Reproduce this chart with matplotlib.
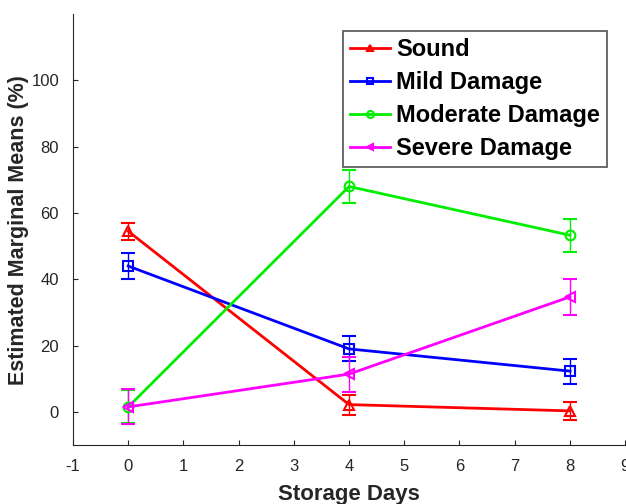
import numpy as np
import matplotlib.pyplot as plt
from matplotlib.lines import Line2D

days = [0, 4, 8]
sound = [54.5, 2.2, 0.3]
sound_err = [2.5, 3.0, 2.8]
mild = [44.0, 19.0, 12.3]
mild_err = [3.8, 3.8, 3.8]
moderate = [1.5, 68.0, 53.3]
moderate_err = [5.0, 5.0, 5.0]
severe = [1.5, 11.4, 34.7]
severe_err = [5.3, 5.3, 5.5]

labels = ['Sound', 'Mild Damage', 'Moderate Damage', 'Severe Damage']
colors = ['#ff0000', '#0000ff', '#00ee00', '#ff00ff']
markers = ['^', 's', 'o', '<']

plt.rcParams['font.family'] = ['Liberation Sans', 'DejaVu Sans']
plt.rcParams['axes.unicode_minus'] = False

fig = plt.figure(figsize=(6.26, 5.04), dpi=100)
ax = fig.add_axes([0.1166, 0.117, 0.882, 0.855])

handles = []
for vals, errs, lab, c, m in zip([sound, mild, moderate, severe],
                                 [sound_err, mild_err, moderate_err, severe_err],
                                 labels, colors, markers):
    ax.errorbar(days, vals, yerr=errs, color=c, marker=m, markersize=7,
                markerfacecolor='none', markeredgewidth=1.5, linewidth=2,
                elinewidth=1, capsize=5, capthick=1)
    handles.append(Line2D([], [], color=c, marker=m, markersize=5,
                          markerfacecolor='none', markeredgewidth=1.5,
                          linewidth=2, label=lab))

ax.set_xlim(-1, 9)
ax.set_ylim(-10, 120)
ax.set_xticks(range(-1, 10))
ax.set_yticks([0, 20, 40, 60, 80, 100])
ax.tick_params(direction='in', labelsize=12, colors='#262626', pad=10)
ax.spines['top'].set_visible(False)
ax.spines['right'].set_visible(False)
for s in ['left', 'bottom']:
    ax.spines[s].set_color('#262626')
ax.set_xlabel('Storage Days', fontsize=16, fontweight='bold', color='#262626', labelpad=7)
ax.set_ylabel('Estimated Marginal Means (%)', fontsize=15.5, fontweight='bold',
              color='#262626', labelpad=2)

leg = ax.legend(handles=handles, loc='upper right', bbox_to_anchor=(0.967, 0.9606),
                prop={'weight': 'bold', 'size': 17}, fancybox=False, edgecolor='#262626',
                handlelength=1.7, borderpad=0.3, labelspacing=0.42, handletextpad=0.25,
                borderaxespad=0)
leg.get_frame().set_linewidth(1.2)

fig.savefig('out.png', dpi=100)
